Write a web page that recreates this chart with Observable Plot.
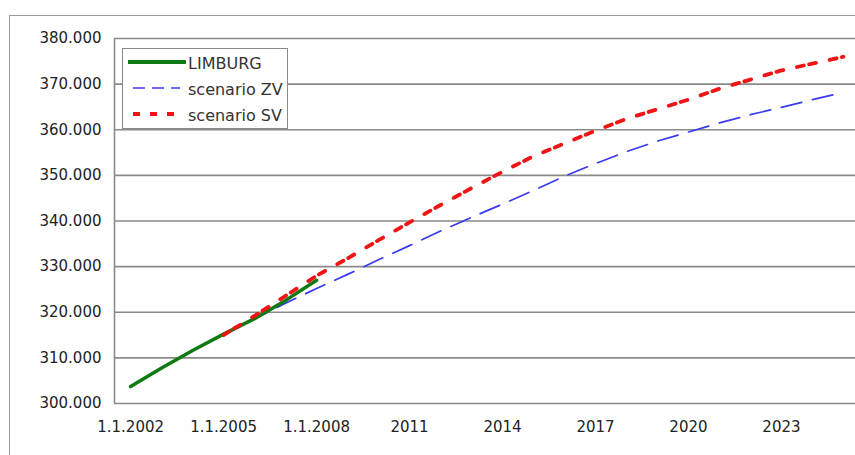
<!DOCTYPE html>
<html>
<head>
<meta charset="utf-8">
<script src="https://cdn.jsdelivr.net/npm/d3@7"></script>
<script src="https://cdn.jsdelivr.net/npm/@observablehq/plot@0.6"></script>
<style>
  html, body { margin: 0; padding: 0; background: #fff; }
  #wrap { position: relative; width: 855px; height: 455px; overflow: hidden; font-family: "DejaVu Sans", Verdana, sans-serif; }
  #frame { position: absolute; left: 9px; top: 15px; width: 900px; height: 500px; border-left: 1.5px solid #9a9a9a; border-top: 1.5px solid #9a9a9a; pointer-events: none; }
  #legend { position: absolute; left: 122px; top: 48px; width: 166px; height: 81px; background: #fff; border: 1.5px solid #8a8a8a; box-sizing: border-box; }
</style>
</head>
<body>
<div id="wrap">
  <div id="chart"></div>
  <div id="frame"></div>
  <div id="legend"></div>
</div>
<script>
// Years (category axis)
const yearsLimburg = [2002, 2003, 2004, 2005, 2006, 2007, 2008];
const limburg = [303700, 307800, 311600, 315200, 318600, 322600, 327000];

const yearsScenario = [2005, 2006, 2007, 2008, 2009, 2010, 2011, 2012, 2013, 2014, 2015,
                       2016, 2017, 2018, 2019, 2020, 2021, 2022, 2023, 2024, 2025];
const scenarioZV = [315000, 318500, 322000, 325200, 328300, 331500, 334600, 337800, 340800, 343700, 346700,
                    349800, 352600, 355200, 357500, 359500, 361500, 363300, 364900, 366600, 368200];
const scenarioSV = [315000, 319200, 323600, 328000, 331800, 335800, 339700, 343500, 347200, 350800, 354200,
                    357000, 359800, 362400, 364500, 366600, 369000, 371000, 373000, 374500, 376000];

const xTicks = [2002, 2005, 2008, 2011, 2014, 2017, 2020, 2023];
const xTickLabels = ["1.1.2002", "1.1.2005", "1.1.2008", "2011", "2014", "2017", "2020", "2023"];
const yTicks = [300000, 310000, 320000, 330000, 340000, 350000, 360000, 370000, 380000];

const seriesNames = ["LIMBURG", "scenario ZV", "scenario SV"];
const seriesColors = ["#0f7a12", "#3a3aee", "#f01414"];

const nl = d3.formatLocale({decimal: ",", thousands: ".", grouping: [3], currency: ["€", ""]});
const fmtY = nl.format(",d");

const dataL = yearsLimburg.map((y, i) => ({year: y, value: limburg[i]}));
const dataZ = yearsScenario.map((y, i) => ({year: y, value: scenarioZV[i]}));
const dataS = yearsScenario.map((y, i) => ({year: y, value: scenarioSV[i]}));

const chart = Plot.plot({
  width: 855,
  height: 455,
  marginTop: 38,
  marginLeft: 114,
  marginRight: 0,
  marginBottom: 52,
  style: {fontFamily: '"DejaVu Sans", Verdana, sans-serif', fontSize: "15px", color: "#222", background: "transparent"},
  x: {domain: [2001.48, 2025.39], ticks: xTicks, tickFormat: d => xTickLabels[xTicks.indexOf(d)], tickSize: 0, tickPadding: 18, label: null},
  y: {domain: [300000, 380000], ticks: yTicks, tickFormat: fmtY, tickSize: 0, tickPadding: 13, label: null},
  marks: [
    Plot.ruleY(yTicks, {stroke: "#8a8a8a", strokeWidth: 1.6, strokeOpacity: 1}),
    Plot.ruleX([2001.48], {stroke: "#8a8a8a", strokeWidth: 1.6}),
    Plot.line(dataZ, {x: "year", y: "value", stroke: seriesColors[1], strokeWidth: 1.7, strokeDasharray: "21,11", strokeDashoffset: 4}),
    Plot.line(dataL, {x: "year", y: "value", stroke: seriesColors[0], strokeWidth: 3.5}),
    Plot.line(dataS, {x: "year", y: "value", stroke: seriesColors[2], strokeWidth: 3.8, strokeDasharray: "7,5.5,7,14"})
  ]
});
document.getElementById("chart").appendChild(chart);

// Legend
const leg = d3.select("#legend").append("svg").attr("width", 164).attr("height", 79)
  .style("font-family", '"DejaVu Sans", Verdana, sans-serif').style("font-size", "16px");
const dashes = [null, "12,7", "7,10"];
const widths = [3.8, 1.7, 3.8];
const x1s = [5, 10, 10];
const x2s = [63, 57, 57];
seriesNames.forEach((name, i) => {
  const cy = 13 + i * 26;
  leg.append("line").attr("x1", x1s[i]).attr("x2", x2s[i]).attr("y1", cy).attr("y2", cy)
    .attr("stroke", seriesColors[i]).attr("stroke-width", widths[i])
    .attr("stroke-dasharray", dashes[i]);
  leg.append("text").attr("x", 65).attr("y", cy + 1).attr("dy", "0.35em").attr("fill", "#333").text(name);
});
</script>
</body>
</html>
